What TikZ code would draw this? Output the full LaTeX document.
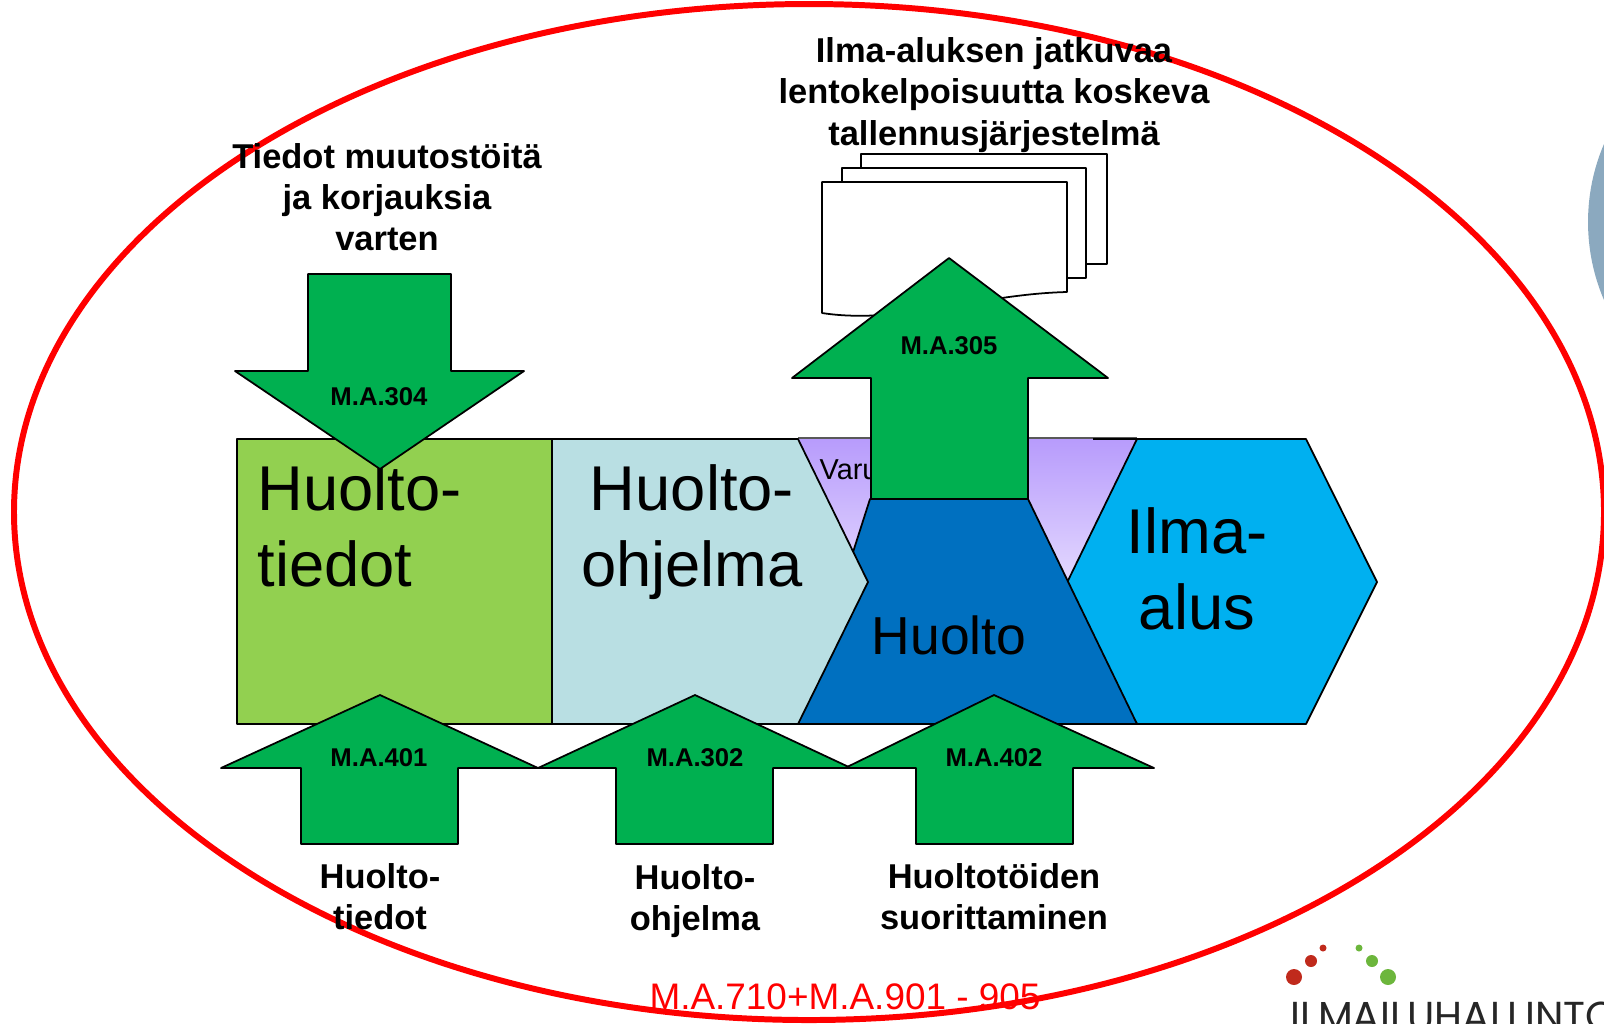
\documentclass[tikz,border=0pt]{standalone}
\usepackage{fontspec}
\setmainfont{Liberation Sans}
\newfontfamily\logofont{Poppins}
\definecolor{tiedotgreen}{HTML}{92D050}
\definecolor{ohjelmablue}{HTML}{B9DFE3}
\definecolor{huoltoblue}{HTML}{0070C0}
\definecolor{alusblue}{HTML}{00B0F0}
\definecolor{arrowgreen}{HTML}{00B050}
\definecolor{purpletop}{HTML}{B79BFC}
\definecolor{purplelow}{HTML}{E9E0FF}
\definecolor{rimred}{HTML}{FF0000}
\definecolor{discblue}{HTML}{8BA9BF}
\definecolor{logored}{HTML}{C02A1C}
\definecolor{logogreen}{HTML}{6CB63C}
\tikzset{
  block/.style={draw=black, line width=0.5pt, line join=round},
  arrowblock/.style={block, fill=arrowgreen},
  sheet/.style={block, fill=white},
  big/.style={text=black, font=\fontsize{18}{21.8}\selectfont, inner sep=0pt},
  lab/.style={text=black, font=\bfseries\fontsize{9.8}{11.7}\selectfont, align=center, inner sep=0pt},
  code/.style={text=black, font=\bfseries\fontsize{7.3}{9}\selectfont, inner sep=0pt},
}

\begin{document}
\begin{tikzpicture}[x=0.01cm,y=-0.01cm]
  \useasboundingbox (0,0) rectangle (1604,1023);
  % disc at the right edge and logo
  \fill[discblue] (1786,222) circle (198);
  \fill[logored] (1294,977) circle (8);
  \fill[logored] (1311,961) circle (6);
  \fill[logored] (1323,948) circle (3.5);
  \fill[logogreen] (1388,977) circle (8);
  \fill[logogreen] (1372,961) circle (6);
  \fill[logogreen] (1359,948) circle (3.5);
  \node[anchor=base west, inner sep=0pt, text=black!85, font=\logofont\fontsize{11.5}{13}\selectfont] (logo) at (1290,1030) {ILMAILUHALLINTO};
  % record sheets
  \draw[sheet] (861,154) -- (1107,154) -- (1107,264) -- (861,264) -- cycle;
  \draw[sheet] (842,168) -- (1086,168) -- (1086,278) -- (842,278) -- cycle;
  \draw[sheet] (822,182) -- (1067,182) -- (1067,292) .. controls (980,294) and (900,325) .. (822,313) -- cycle;
  % process blocks
  \shade[top color=purpletop, bottom color=purplelow] (798,438) -- (1137,438) -- (1067,600) -- (868,600) -- cycle;
  \draw[draw=black!65, line width=0.4pt] (798,438) -- (1137,438);
  \node[anchor=west, inner sep=0pt, font=\fontsize{8.2}{10}\selectfont] (varu) at (819,470) {Varu};
  \draw[block, fill=alusblue] (1137,439) -- (1306,439) -- (1377,582) -- (1306,724) -- (1137,724) -- (1060,597) -- cycle;
  \draw[block] (1093,439) -- (1137,439);
  \draw[block, fill=huoltoblue] (870,499) -- (1028,499) -- (1137,724) -- (798,724) -- cycle;
  \draw[block, fill=ohjelmablue] (552,439) -- (798,439) -- (868,582) -- (798,724) -- (552,724) -- cycle;
  \draw[block, fill=tiedotgreen] (237,439) rectangle (552,724);
  \node[big, anchor=west, align=left] (tiedot) at (257,526) {Huolto-\\tiedot};
  \node[big, align=center] (ohjelma) at (692,532) {Huolto-\\ohjelma};
  \node[big, font=\fontsize{15.2}{18}\selectfont] (huolto) at (949,635) {Huolto};
  \node[big, align=center] (alus) at (1197,569) {Ilma-\\alus};
  % input and output arrows
  \draw[arrowblock] (308,274) -- (451,274) -- (451,371) -- (524,371) -- (380,469) -- (235,371) -- (308,371) -- cycle;
  \draw[arrowblock] (871,499) -- (871,378) -- (792,378) -- (949,258) -- (1108,378) -- (1028,378) -- (1028,499) -- cycle;
  \draw[arrowblock] (301,844) -- (301,768) -- (221,768) -- (380,695) -- (538,768) -- (458,768) -- (458,844) -- cycle;
  \draw[arrowblock] (616,844) -- (616,768) -- (538,768) -- (695,695) -- (851,768) -- (773,768) -- (773,844) -- cycle;
  \draw[arrowblock] (916,844) -- (916,768) -- (845,768) -- (994,695) -- (1154,768) -- (1073,768) -- (1073,844) -- cycle;
  \node[code] (ma304) at (379,397) {M.A.304};
  \node[code] (ma305) at (949,346) {M.A.305};
  \node[code] (ma401) at (379,758) {M.A.401};
  \node[code] (ma302) at (695,758) {M.A.302};
  \node[code] (ma402) at (994,758) {M.A.402};
  % boundary
  \draw[rimred, line width=1.7pt] (809,512) ellipse (795 and 508);
  \node[lab] (muutos) at (387,197) {Tiedot muutostöitä\\ja korjauksia\\varten};
  \node[lab] (tallennus) at (994,95) {Ilma-aluksen jatkuvaa\\lentokelpoisuutta koskeva\\tallennusjärjestelmä};
  \node[lab] (alatiedot) at (380,897) {Huolto-\\tiedot};
  \node[lab] (alaohjelma) at (695,901) {Huolto-\\ohjelma};
  \node[lab] (suoritus) at (994,897) {Huoltotöiden\\suorittaminen};
  \node[inner sep=0pt, text=rimred, font=\fontsize{10.5}{12}\selectfont] (viite) at (845,997) {M.A.710+M.A.901 - 905};
\end{tikzpicture}
\end{document}
